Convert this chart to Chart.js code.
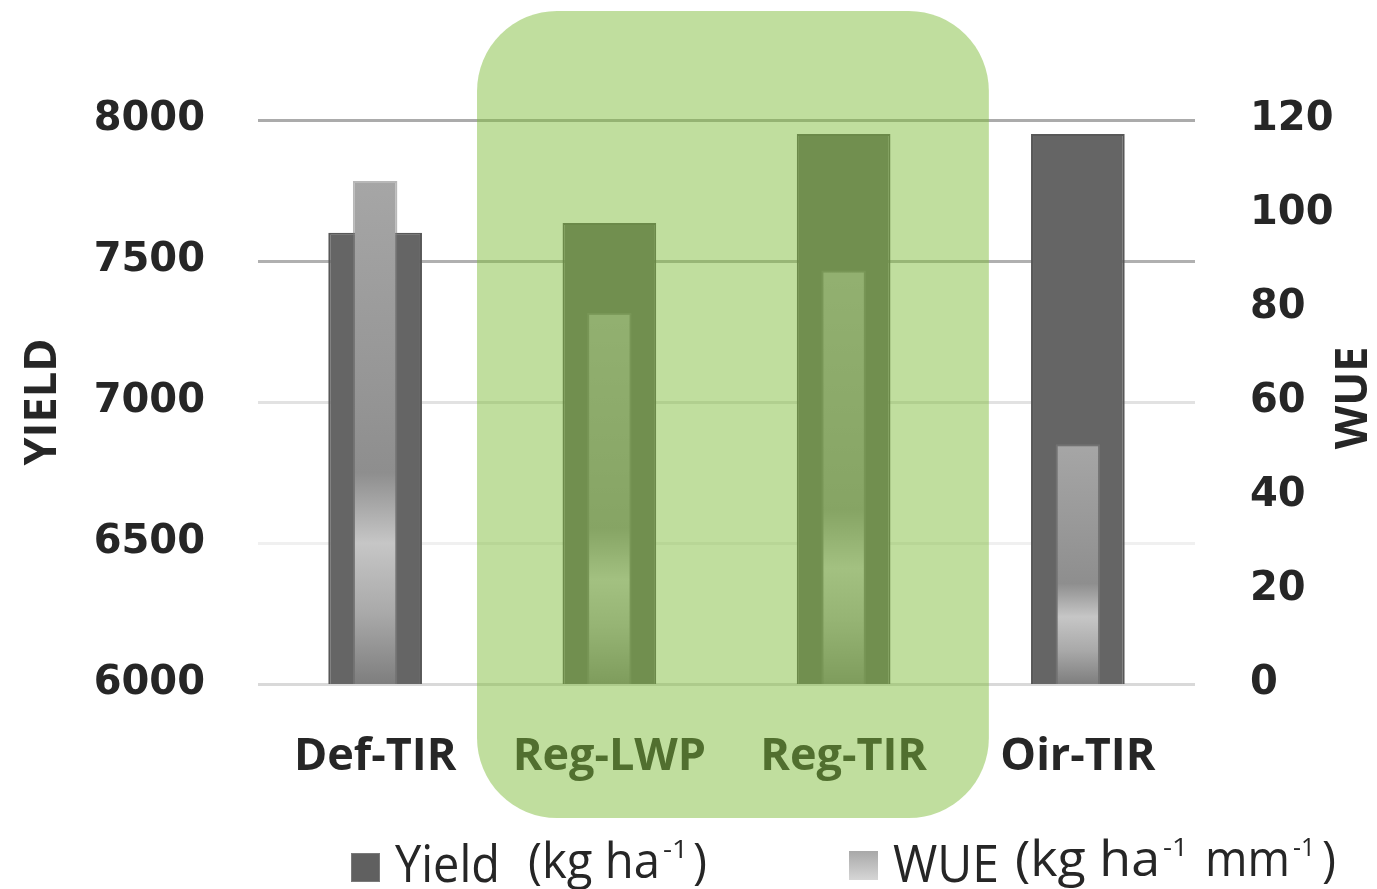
<!DOCTYPE html>
<html>
<head>
<meta charset="utf-8">
<script src="https://cdn.jsdelivr.net/npm/chart.js@4.4.0/dist/chart.umd.min.js"></script>
<style>
  html, body { margin: 0; padding: 0; background: #ffffff; }
  canvas { display: block; }
</style>
</head>
<body>
<canvas id="c" width="1377" height="889"></canvas>
<script>
// Irrigation treatments and their results
const categories = ['Def-TIR', 'Reg-LWP', 'Reg-TIR', 'Oir-TIR'];
const yieldValues = [7600, 7635, 7950, 7950];   // kg ha-1
const wueValues = [107, 79, 88, 51];            // kg ha-1 mm-1
const yieldTicks = [6000, 6500, 7000, 7500, 8000];
const wueTicks = [0, 20, 40, 60, 80, 100, 120];
const highlighted = ['Reg-LWP', 'Reg-TIR'];

const TEXT = '#262626';
const gridColours = { 8000: '#ababab', 7500: '#b0b0b0', 7000: '#e2e2e2', 6500: '#f0f0f0', 6000: '#d9d9d9' };

function wueGradient(g) {
  g.addColorStop(0.00, '#a6a6a6');
  g.addColorStop(0.40, '#969696');
  g.addColorStop(0.58, '#8e8e8e');
  g.addColorStop(0.72, '#c6c6c6');
  g.addColorStop(0.86, '#a9a9a9');
  g.addColorStop(1.00, '#7e7e7e');
  return g;
}

// Rounded green panel over the regulated-deficit treatments
const highlightPlugin = {
  id: 'highlightPanel',
  afterDraw(chart) {
    const { ctx, scales } = chart;
    const x = scales.x;
    const i0 = categories.indexOf(highlighted[0]);
    const i1 = categories.indexOf(highlighted[highlighted.length - 1]);
    const catW = (x.right - x.left) / categories.length;
    const left = x.getPixelForValue(i0) - catW * 0.565;
    const right = x.getPixelForValue(i1) + catW * 0.62;
    const top = 11, bottom = 818, r = 80;
    ctx.save();
    ctx.beginPath();
    ctx.roundRect(left, top, right - left, bottom - top, r);
    ctx.fillStyle = 'rgba(126,187,58,0.49)';
    ctx.fill();
    ctx.restore();
  }
};

// Text squeezed horizontally to a given width
function fitted(ctx, text, x, baseline, size, width, weight) {
  ctx.save();
  ctx.font = (weight || 'normal') + ' ' + size + 'px "Open Sans"';
  const w = ctx.measureText(text).width;
  ctx.translate(x, baseline);
  ctx.scale(width / w, 1);
  ctx.textBaseline = 'alphabetic';
  ctx.textAlign = 'left';
  ctx.fillStyle = TEXT;
  ctx.fillText(text, 0, 0);
  ctx.restore();
}

// Right-hand axis title and the legend with superscript units
const decorPlugin = {
  id: 'decor',
  afterDraw(chart) {
    const { ctx, chartArea } = chart;
    ctx.save();
    ctx.translate(1354, (chartArea.top + chartArea.bottom) / 2 - 4);
    ctx.rotate(-Math.PI / 2);
    ctx.font = 'bold 45px "Open Sans"';
    ctx.fillStyle = TEXT;
    ctx.textAlign = 'center';
    ctx.textBaseline = 'middle';
    ctx.fillText('WUE', 0, 0);
    ctx.restore();

    // Yield entry
    ctx.save();
    ctx.fillStyle = '#606060';
    ctx.fillRect(351, 853, 29, 29);
    ctx.strokeStyle = '#7a7a7a';
    ctx.lineWidth = 1;
    ctx.strokeRect(351.5, 853.5, 28, 28);
    ctx.restore();
    fitted(ctx, 'Yield', 395, 882, 52, 105);
    fitted(ctx, '(kg ha', 528, 878, 50, 132);
    fitted(ctx, '-1', 663, 858, 26, 25);
    fitted(ctx, ')', 693, 878, 50, 14);

    // WUE entry
    ctx.save();
    const g = ctx.createLinearGradient(0, 851, 0, 880);
    g.addColorStop(0, '#a8a8a8');
    g.addColorStop(1, '#d6d6d6');
    ctx.fillStyle = g;
    ctx.fillRect(849, 851, 29, 29);
    ctx.restore();
    fitted(ctx, 'WUE', 893, 882, 52, 106);
    fitted(ctx, '(kg ha', 1015, 876, 50, 145);
    fitted(ctx, '-1', 1163, 856, 26, 25);
    fitted(ctx, 'mm', 1205, 876, 50, 85);
    fitted(ctx, '-1', 1293, 856, 26, 22);
    fitted(ctx, ')', 1322, 876, 50, 14);
  }
};

new Chart(document.getElementById('c'), {
  type: 'bar',
  data: {
    labels: categories,
    datasets: [
      {
        label: 'WUE',
        data: wueValues,
        yAxisID: 'y2',
        grouped: false,
        categoryPercentage: 1.0,
        barPercentage: 0.19,
        borderWidth: 2,
        borderColor: 'rgba(125,125,125,0.55)',
        borderSkipped: 'bottom',
        backgroundColor: (c) => {
          const chart = c.chart;
          if (!chart.chartArea || c.type !== 'data' || !chart.scales.y2) return '#9a9a9a';
          const yTop = chart.scales.y2.getPixelForValue(c.raw);
          const yBase = chart.scales.y2.getPixelForValue(wueTicks[0]);
          return wueGradient(chart.ctx.createLinearGradient(0, yTop, 0, yBase));
        }
      },
      {
        label: 'Yield',
        data: yieldValues,
        yAxisID: 'y',
        grouped: false,
        categoryPercentage: 1.0,
        barPercentage: 0.4,
        backgroundColor: '#656565',
        borderColor: '#585858',
        borderWidth: 2,
        borderSkipped: 'bottom'
      }
    ]
  },
  options: {
    responsive: false,
    animation: false,
    layout: { padding: { top: 120, bottom: 95, left: 0, right: 0 } },
    plugins: { legend: { display: false }, tooltip: { enabled: false } },
    scales: {
      x: {
        grid: { display: false, drawTicks: false },
        border: { display: false },
        ticks: {
          color: TEXT,
          font: { family: 'Open Sans', weight: 'bold', size: 45 },
          padding: 46
        },
        afterFit: (s) => { s.height = 110; }
      },
      y: {
        position: 'left',
        min: yieldTicks[0],
        max: yieldTicks[yieldTicks.length - 1],
        ticks: {
          stepSize: yieldTicks[1] - yieldTicks[0],
          color: TEXT,
          font: { family: 'DejaVu Sans', weight: 'bold', size: 40 },
          padding: 53,
          callback: (v) => String(v)
        },
        grid: {
          drawTicks: false,
          lineWidth: 3,
          color: (c) => gridColours[c.tick.value] || '#e6e6e6'
        },
        border: { display: false },
        title: {
          display: true,
          text: 'YIELD',
          color: TEXT,
          font: { family: 'Open Sans', weight: 'bold', size: 45 },
          padding: { top: 16, bottom: 0 }
        },
        afterFit: (s) => { s.width = 258; }
      },
      y2: {
        position: 'right',
        min: wueTicks[0],
        max: wueTicks[wueTicks.length - 1],
        ticks: {
          stepSize: wueTicks[1] - wueTicks[0],
          color: TEXT,
          font: { family: 'DejaVu Sans', weight: 'bold', size: 40 },
          padding: 55,
          callback: (v) => String(v)
        },
        grid: { display: false, drawTicks: false },
        border: { display: false },
        afterFit: (s) => { s.width = 182; }
      }
    }
  },
  plugins: [highlightPlugin, decorPlugin]
});
</script>
</body>
</html>
